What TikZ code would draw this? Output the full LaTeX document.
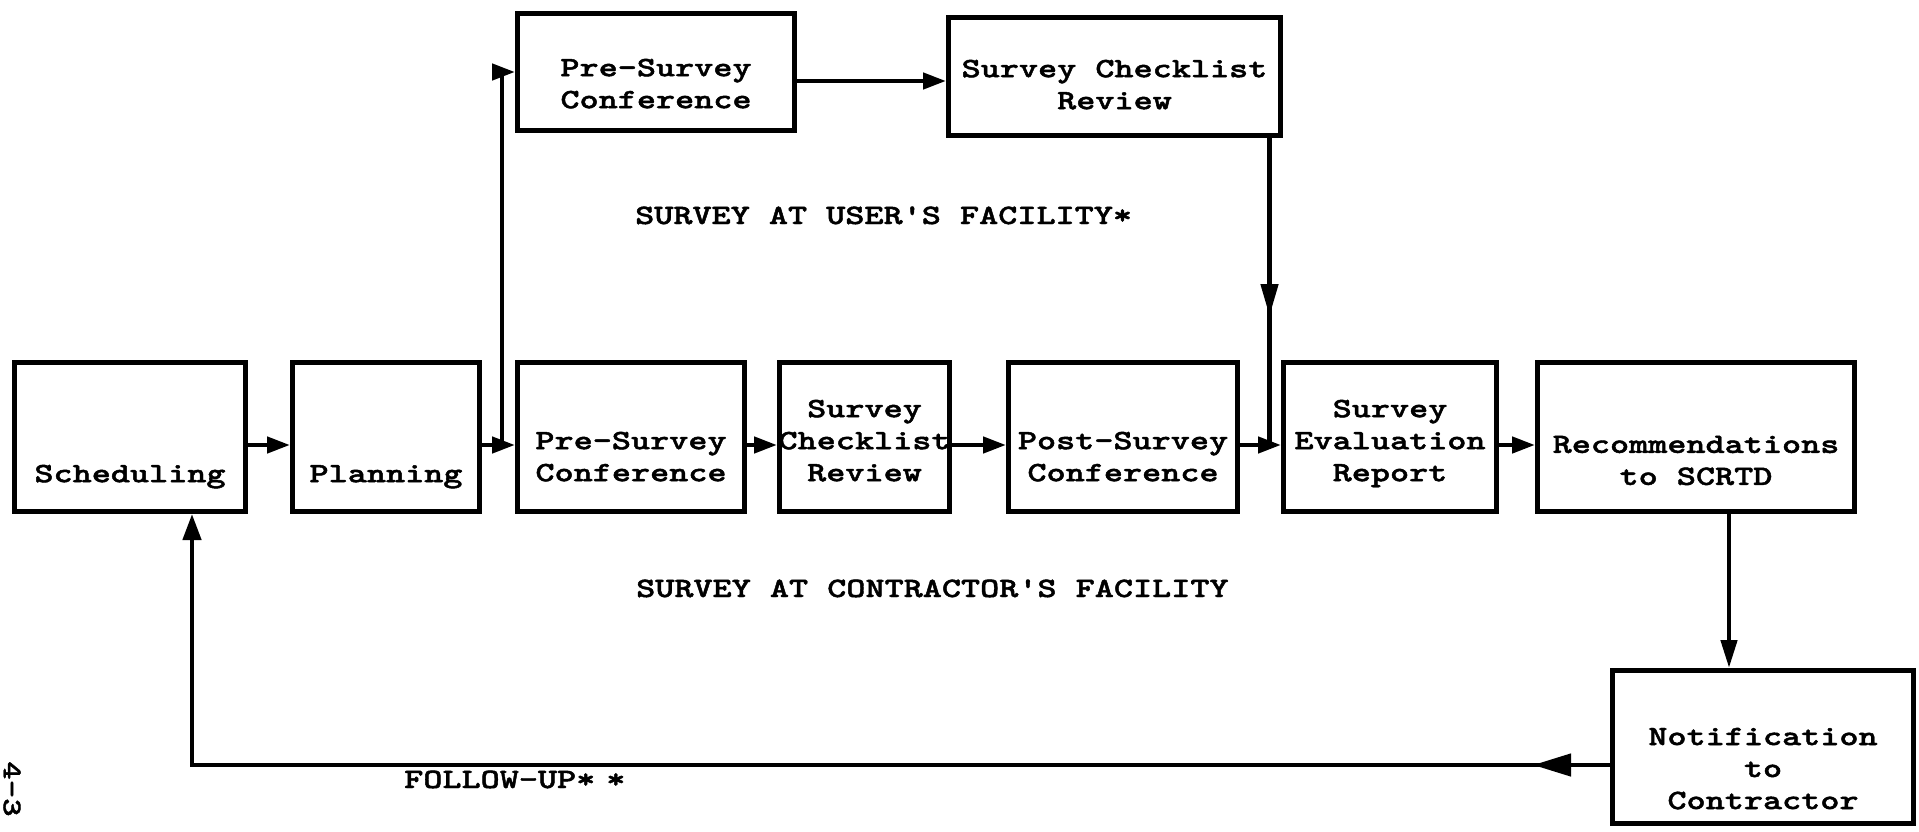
\documentclass[tikz,border=0pt]{standalone}
\usepackage{fontspec}
\usetikzlibrary{arrows.meta,calc,decorations.markings}
% slab-serif typewriter face, widened to a pica pitch
\newfontfamily\typefont[FakeStretch=1.30,FakeBold=1.6]{lmmonolt10-bold.otf}
\newcommand\twfont{\typefont\fontsize{28}{32}\selectfont}
\newcommand\twsmall{\typefont\fontsize{27}{30}\selectfont}

\begin{document}
\begin{tikzpicture}[x=1pt,y=-1pt,
  box/.style={draw, line width=5pt, inner sep=0pt},
  lbl/.style={font=\twfont, align=center, inner sep=0pt, anchor=north,
              execute at begin node=\strut, execute at end node=\strut},
  free/.style={font=\twfont, inner sep=0pt, anchor=base west},
  conn/.style={line width=4.5pt},
  arr/.style={-{Triangle[length=23pt,width=16pt]}},
  midarrow/.style 2 args={postaction={decorate},
     decoration={markings, mark=at position #1 with {\arrow{#2}}}}]
\useasboundingbox (0,0) rectangle (1919,832);

% main row of boxes
\node[box, minimum width=231pt, minimum height=149pt] (sched) at (130,437) {};
\node[box, minimum width=187pt, minimum height=149pt] (plan)  at (386,437) {};
\node[box, minimum width=227pt, minimum height=149pt] (pre1)  at (631,437) {};
\node[box, minimum width=170pt, minimum height=149pt] (scr1)  at (864.5,437) {};
\node[box, minimum width=229pt, minimum height=149pt] (post)  at (1123,437) {};
\node[box, minimum width=213pt, minimum height=149pt] (ser)   at (1390,437) {};
\node[box, minimum width=317pt, minimum height=149pt] (rec)   at (1696,437) {};
% notification box
\node[box, minimum width=301pt, minimum height=153pt] (notif) at (1763,747) {};
% upper branch boxes
\node[box, minimum width=277pt, minimum height=117pt] (preU)  at (656,72) {};
\node[box, minimum width=332pt, minimum height=118pt] (scrU)  at (1114.5,76.5) {};

% box texts (north anchor = first baseline - 22.4)
\node[lbl] (schedT) at (130,459.6) {Scheduling};
\node[lbl] (planT)  at (386,459.6) {Planning};
\node[lbl] (pre1T)  at (631,431.6) {Pre-Survey\\Conference};
\node[lbl] (scr1T)  at (864.5,399.6) {Survey\\Checklist\\Review};
\node[lbl] (postT)  at (1123,431.6) {Post-Survey\\Conference};
\node[lbl] (serT)   at (1390,399.6) {Survey\\Evaluation\\Report};
\node[lbl] (recT)   at (1696,435.6) {Recommendations\\to SCRTD};
\node[lbl] (notifT) at (1763,727.6) {Notification\\to\\Contractor};
\node[lbl] (preUT)  at (656,58.6) {Pre-Survey\\Conference};
\node[lbl] (scrUT)  at (1114.5,59.6) {Survey Checklist\\Review};

% free captions
\node[free] (userT)   at (635,224) {SURVEY AT USER'S FACILITY*};
\node[free] (contT)   at (636,597) {SURVEY AT CONTRACTOR'S FACILITY};
\node[free] (followT) at (404,788) {FOLLOW-UP*\hspace{11pt}*};
\node[font=\twsmall, inner sep=0pt, rotate=-90] (pageT) at (12,789) {4-3};

% main row connectors
\draw[conn,arr] ($(sched.east)+(0,8)$) -- ($(plan.west)+(0,8)$);
\draw[conn,arr] ($(plan.east)+(0,8)$)  -- ($(pre1.west)+(0,8)$);
\draw[conn,arr] ($(pre1.east)+(0,8)$)  -- ($(scr1.west)+(0,8)$);
\draw[conn,arr] ($(scr1.east)+(0,8)$)  -- ($(post.west)+(0,8)$);
\draw[conn,arr] ($(post.east)+(0,8)$)  -- ($(ser.west)+(0,8)$);
\draw[conn,arr] ($(ser.east)+(0,8)$)   -- ($(rec.west)+(0,8)$);

% branch to the user's facility survey
\coordinate (br) at ($(plan.east)+(20,8)$);
\draw[conn,arr] (br) |- (preU.west);
\coordinate (ua) at ($(preU.east)+(0,9)$);
\draw[conn,arr] (ua) -- (ua -| scrU.west);

% checklist review feeding the evaluation report
\coordinate (dn) at ($(scrU.south east)+(-13.5,0)$);
\coordinate (pe) at ($(post.east)+(0,8)$);
\draw[conn, midarrow={0.58}{Triangle[length=32pt,width=17pt]}] (dn) -- (dn |- pe);

% recommendations to notification
\coordinate (rd) at ($(rec.south)+(33,0)$);
\draw[conn,-{Triangle[length=28pt,width=16pt]}] (rd) -- (rd |- notif.north);

% follow-up loop back to scheduling
\coordinate (ns) at ($(notif.west)+(0,18)$);
\coordinate (fu) at ($(sched.south)+(62,0)$);
\draw[conn, -{Triangle[length=26pt,width=18pt]},
      midarrow={77pt}{Triangle[length=38pt,width=22pt]}] (ns) -| (fu);
\end{tikzpicture}
\end{document}
